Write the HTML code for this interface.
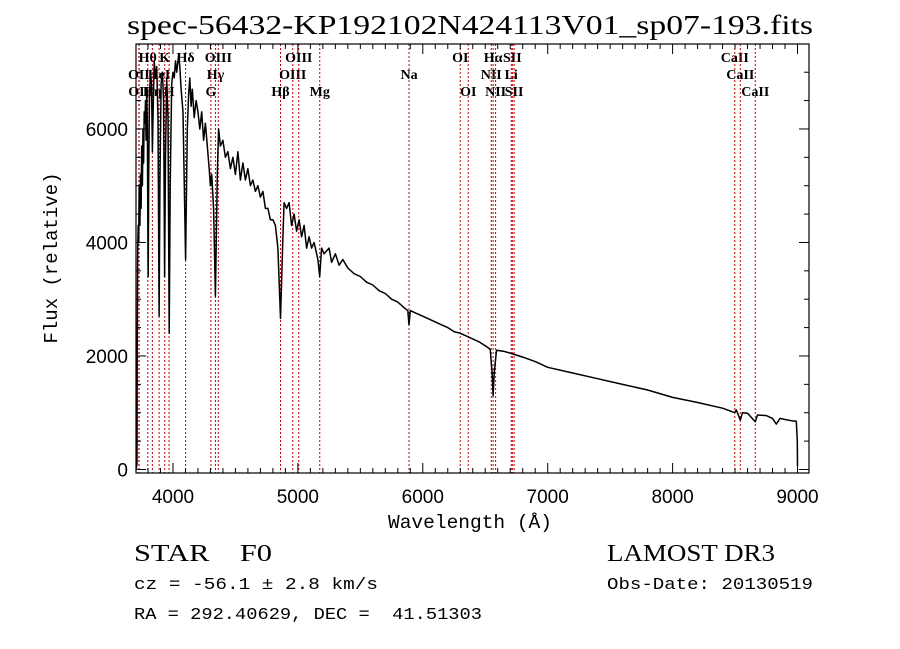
<!DOCTYPE html>
<html><head><meta charset="utf-8"><style>
html,body{margin:0;padding:0;background:#fff;}
svg{display:block;}
</style></head><body>
<svg id="chart" width="900" height="649" xmlns="http://www.w3.org/2000/svg">
<rect width="900" height="649" fill="#fff"/>
<text x="470" y="34" text-anchor="middle" font-family="Liberation Serif, serif" font-size="27" textLength="686" lengthAdjust="spacingAndGlyphs">spec-56432-KP192102N424113V01_sp07-193.fits</text>
<g id="lines"></g>
<g id="spec"></g>
<g id="axes"></g>
<text x="470" y="528" text-anchor="middle" font-family="Liberation Mono, monospace" font-size="19" textLength="164" lengthAdjust="spacingAndGlyphs">Wavelength (Å)</text>
<text transform="translate(57,258) rotate(-90)" text-anchor="middle" font-family="Liberation Mono, monospace" font-size="19">Flux (relative)</text>
<text x="134" y="561" font-family="Liberation Serif, serif" font-size="24" xml:space="preserve" textLength="138" lengthAdjust="spacingAndGlyphs">STAR    F0</text>
<text x="607" y="561" font-family="Liberation Serif, serif" font-size="24" textLength="168" lengthAdjust="spacingAndGlyphs">LAMOST DR3</text>
<text x="134" y="589" font-family="Liberation Mono, monospace" font-size="17" xml:space="preserve" textLength="244" lengthAdjust="spacingAndGlyphs">cz = -56.1 ± 2.8 km/s</text>
<text x="607" y="589" font-family="Liberation Mono, monospace" font-size="17" textLength="206" lengthAdjust="spacingAndGlyphs">Obs-Date: 20130519</text>
<text x="134" y="619" font-family="Liberation Mono, monospace" font-size="17" xml:space="preserve" textLength="348" lengthAdjust="spacingAndGlyphs">RA = 292.40629, DEC =  41.51303</text>
</svg>
<script>
const wavelengths=[3705,3712,3714,3718,3722,3726,3730,3735,3740,3745,3750,3755,3760,3765,3770,3775,3780,3785,3790,3795,3798,3802,3806,3812,3820,3828,3835,3840,3850,3860,3870,3880,3889,3895,3905,3915,3925,3933,3940,3950,3960,3970,3978,3990,4000,4010,4020,4030,4045,4055,4065,4080,4101,4115,4125,4135,4145,4155,4170,4185,4200,4215,4230,4245,4260,4275,4290,4300,4310,4325,4340,4355,4365,4380,4400,4420,4440,4460,4480,4500,4520,4540,4560,4580,4600,4620,4640,4660,4680,4700,4720,4740,4760,4780,4800,4820,4840,4861,4880,4890,4910,4930,4950,4970,4990,5010,5030,5050,5070,5090,5110,5130,5160,5175,5190,5210,5250,5270,5300,5330,5360,5400,5450,5500,5550,5600,5650,5700,5750,5800,5850,5880,5890,5900,5950,6000,6050,6100,6150,6200,6250,6300,6350,6400,6450,6500,6540,6555,6563,6572,6590,6650,6700,6800,6900,7000,7200,7400,7600,7800,8000,8200,8400,8498,8510,8542,8560,8600,8662,8680,8750,8800,8830,8860,8900,8950,8990,8998,9000];
const fluxes=[0,100,2000,3900,4300,4000,5000,4300,5200,4600,5700,5000,6000,5400,6300,6100,6500,5800,6700,6000,4800,3400,5200,6600,7000,6800,5600,6200,7200,6900,7100,6200,2700,5000,6800,7000,6500,3400,5500,6900,6200,2400,5000,6800,7000,6900,7200,7000,7300,7100,6700,6300,3700,6000,6600,6900,6400,6700,6200,6500,6300,6000,6300,5800,6100,5700,5300,5000,5200,4600,3050,5200,6000,5700,5800,5500,5600,5300,5500,5200,5600,5100,5400,5100,5300,5000,5100,4900,5000,4800,4900,4600,4600,4400,4400,4300,3900,2660,4100,4700,4600,4700,4300,4500,4200,4400,4100,4300,3900,4100,3900,4000,3700,3400,3900,3800,3900,3650,3800,3600,3700,3550,3450,3400,3300,3250,3150,3100,3000,2950,2850,2800,2550,2800,2750,2700,2650,2600,2550,2500,2430,2400,2350,2300,2250,2180,2120,1700,1300,1700,2100,2080,2050,1980,1900,1800,1700,1600,1500,1400,1270,1180,1080,1000,1050,870,1000,990,840,960,950,900,800,900,880,860,850,500,60];
const lineWaves=[3727,3729,3798,3835,3889,3934,3969,4101,4304,4340,4363,4861,4959,5007,5175,5890,6300,6364,6548,6563,6583,6708,6717,6731,8498,8542,8662];
const lineLabels=["OII","OII","Hθ","Hη","HeI","K","H","Hδ","G","Hγ","OIII","Hβ","OIII","OIII","Mg","Na","OI","OI","NII","Hα","NII","Li","SII","SII","CaII","CaII","CaII"];
const lineRows=[1,2,0,2,1,0,2,0,2,1,0,2,1,0,2,1,0,2,1,0,2,1,0,2,0,1,2];
const xTicks=[4000,5000,6000,7000,8000,9000];
const yTicks=[0,2000,4000,6000];

const NS="http://www.w3.org/2000/svg";
const L=136,R=809,T=44,B=473;
const xMin=3704,xMax=9092,yMin=-62,yMax=7497;
const xs=v=>L+(v-xMin)/(xMax-xMin)*(R-L);
const ys=v=>B-(v-yMin)/(yMax-yMin)*(B-T);
function mk(tag,attrs,parent){const e=document.createElementNS(NS,tag);for(const k in attrs)e.setAttribute(k,attrs[k]);parent.appendChild(e);return e;}

const lg=document.getElementById('lines');
lineWaves.forEach((w,i)=>{
  const x=xs(w);
  const ln=mk('line',{x1:x,x2:x,y1:T,y2:B,stroke:'#c00000','stroke-width':1,'stroke-dasharray':'2,2'},lg);
  
  
  const t=mk('text',{x:x,y:62+lineRows[i]*17,'text-anchor':'middle','font-family':'Liberation Serif, serif','font-size':14,'font-weight':'bold'},lg);
  t.textContent=lineLabels[i];
  
  
});

const sg=document.getElementById('spec');
const d=wavelengths.map((w,i)=>(i?'L':'M')+xs(w).toFixed(1)+','+ys(fluxes[i]).toFixed(1)).join('');
const p=mk('path',{d:d,fill:'none',stroke:'#000','stroke-width':1.5,'stroke-linejoin':'round'},sg);



const ag=document.getElementById('axes');
const box=mk('rect',{x:L,y:T,width:R-L,height:B-T,fill:'none',stroke:'#000','stroke-width':1.2},ag);


for(let w=3800;w<=9000;w+=100){
  const x=xs(w),maj=w%1000===0,len=maj?10:5;
  mk('line',{x1:x,x2:x,y1:B,y2:B-len,stroke:'#000'},ag);
  mk('line',{x1:x,x2:x,y1:T,y2:T+len,stroke:'#000'},ag);
}
xTicks.forEach(v=>{
  const t=mk('text',{x:xs(v),y:B+30,'text-anchor':'middle','font-family':'Liberation Sans, sans-serif','font-size':19},ag);
  t.textContent=v;
  
  
});
for(let f=0;f<=7000;f+=500){
  const y=ys(f),maj=f%2000===0,len=maj?10:5;
  mk('line',{x1:L,x2:L+len,y1:y,y2:y,stroke:'#000'},ag);
  mk('line',{x1:R,x2:R-len,y1:y,y2:y,stroke:'#000'},ag);
}
yTicks.forEach(v=>{
  const t=mk('text',{x:L-8,y:ys(v)+7,'text-anchor':'end','font-family':'Liberation Sans, sans-serif','font-size':19},ag);
  t.textContent=v;
  
  
});
</script>
</body></html>
